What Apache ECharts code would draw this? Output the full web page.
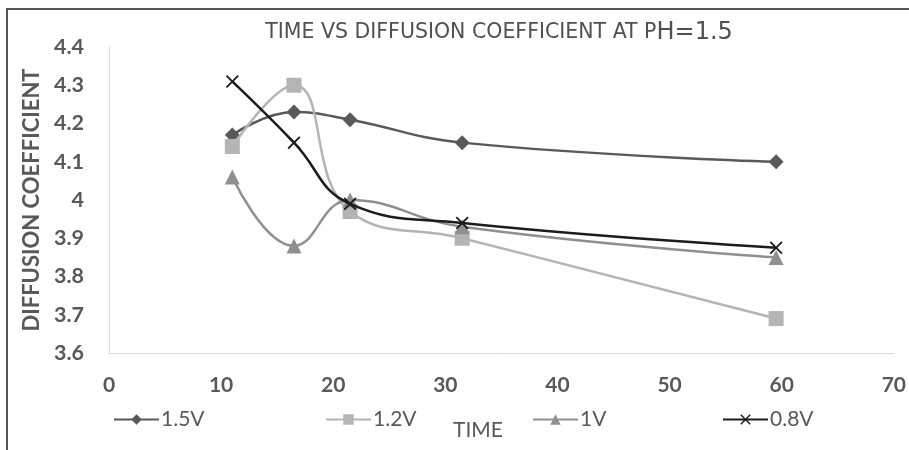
<!DOCTYPE html>
<html>
<head>
<meta charset="utf-8">
<script src="https://cdn.jsdelivr.net/npm/echarts@6/dist/echarts.min.js"></script>
<style>
html,body{margin:0;padding:0;background:#fff;}
#chart{width:909px;height:450px;}
</style>
</head>
<body>
<div id="chart"></div>
<script>
// ---- data ----
const timeValues = [11, 16.5, 21.5, 31.5, 59.5];
const seriesNames = ['1.5V', '1.2V', '1V', '0.8V'];
const v15 = [4.17, 4.23, 4.21, 4.15, 4.10];
const v12 = [4.14, 4.30, 3.97, 3.90, 3.69];
const v10 = [4.06, 3.88, 4.00, 3.93, 3.85];
const v08 = [4.31, 4.15, 3.99, 3.94, 3.875];
const xAxisTitle = 'TIME';
const yAxisTitle = 'DIFFUSION COEFFICIENT';

const FONT = 'Lato, "Open Sans", sans-serif';
const TFONT = '"DejaVu Sans", sans-serif';
const TXT = '#595959';

function pairs(vals){ return timeValues.map((t,i)=>[t, vals[i]]); }

const crossPath = 'path://M1,0 L5,4 L9,0 L10,1 L6,5 L10,9 L9,10 L5,6 L1,10 L0,9 L4,5 L0,1 Z';

const styles = [
  {color:'#595959', symbol:'diamond', size:15},
  {color:'#b4b4b4', symbol:'rect', size:15},
  {color:'#8f8f8f', symbol:'triangle', size:15},
  {color:'#1c1c1c', symbol:crossPath, size:13}
];
const allData = [v15, v12, v10, v08];

const series = seriesNames.map((n,i)=>({
  name:n, type:'line', smooth:0.45,
  data:pairs(allData[i]),
  symbol:styles[i].symbol, symbolSize:styles[i].size,
  lineStyle:{color:styles[i].color, width:2.5},
  itemStyle:{color:styles[i].color},
  z: i===3 ? 5 : 2+i
}));

const legendLeft = [108, 320, 527, 717];
const legends = seriesNames.map((n,i)=>({
  data:[n], left:legendLeft[i], top:404,
  itemWidth:45, itemHeight:13,
  textStyle:{fontFamily:FONT, fontSize:21, color:TXT, padding:[0,0,0,-3]}
}));

const chart = echarts.init(document.getElementById('chart'), null, {renderer:'canvas'});
chart.setOption({
  backgroundColor:'#fff',
  animation:false,
  title:{
    text:'{a|TIME VS DIFFUSION COEFFICIENT AT P}{b|H=1.5}',
    left:494, top:16, textAlign:'center',
    textStyle:{
      fontWeight:'normal',
      rich:{
        a:{fontFamily:TFONT, fontSize:20.5, fontWeight:'normal', color:'#505050'},
        b:{fontFamily:TFONT, fontSize:24, fontWeight:'normal', color:'#505050'}
      }
    }
  },
  legend:legends,
  grid:{left:109, right:12, top:47, bottom:97},
  xAxis:{
    type:'value', min:0, max:70, interval:10,
    axisLine:{show:true, lineStyle:{color:'#d9d9d9', width:1}},
    axisTick:{show:false}, splitLine:{show:false},
    axisLabel:{fontFamily:FONT, fontSize:21, fontWeight:'bold', color:TXT, margin:22}
  },
  yAxis:{
    type:'value', min:3.6, max:4.4, interval:0.1,
    name:yAxisTitle, nameLocation:'middle', nameGap:66,
    nameTextStyle:{fontFamily:FONT, fontSize:22, fontWeight:'bold', color:TXT},
    axisLine:{show:true, lineStyle:{color:'#d9d9d9', width:1}},
    axisTick:{show:false}, splitLine:{show:false},
    axisLabel:{fontFamily:FONT, fontSize:21.5, fontWeight:'bold', color:TXT, margin:25,
      formatter:v=>String(Math.round(v*10)/10)}
  },
  graphic:[
    {type:'polyline', shape:{points:[[7,450],[7,9],[909,9]]},
      style:{stroke:'#555', lineWidth:2, fill:null}, silent:true},
    {type:'text', left:453, top:420,
      style:{text:xAxisTitle, fontFamily:FONT, fontSize:21, fill:TXT}}
  ],
  series:series
});
</script>
</body>
</html>
